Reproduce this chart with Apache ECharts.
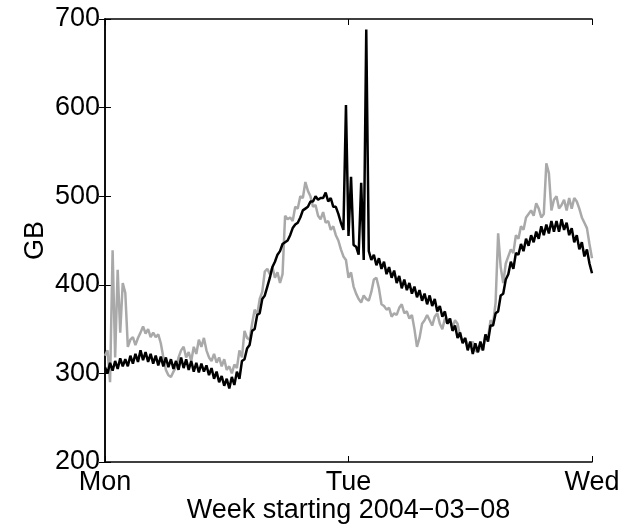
<!DOCTYPE html>
<html>
<head>
<meta charset="utf-8">
<script src="https://cdn.jsdelivr.net/npm/echarts@6/dist/echarts.min.js"></script>
<style>
  html, body { margin: 0; padding: 0; background: #fff; }
  #chart { width: 636px; height: 527px; }
</style>
</head>
<body>
<div id="chart"></div>
<script>
/* x ticks: hours since Monday 00:00 and their labels */
const tickHours = [0, 24, 48]
const tickLabels = ['Mon', 'Tue', 'Wed']

/* sample spacing of both series, in hours (0 .. 48) */
const stepHours = 0.25

/* grey series, one value every 15 minutes (GB) */
const greyValues = [
  320, 326, 290, 439, 318, 417, 346, 402,
  391, 330, 338, 341, 332, 340, 346, 353,
  345, 350, 341, 346, 341, 344, 334, 318,
  304, 298, 296, 302, 307, 318, 326, 330,
  318, 324, 314, 330, 322, 338, 330, 340,
  326, 318, 314, 322, 312, 318, 308, 316,
  304, 308, 300, 310, 306, 326, 318, 348,
  340, 338, 356, 372, 366, 384, 392, 415,
  418, 412, 420, 408, 414, 402, 412, 478,
  474, 476, 472, 488, 486, 500, 498, 516,
  506, 500, 488, 490, 478, 474, 482, 470,
  472, 462, 466, 456, 450, 440, 432, 428,
  408, 414, 398, 390, 384, 380, 388, 384,
  382, 392, 406, 408, 396, 378, 376, 372,
  374, 364, 368, 366, 374, 378, 368, 370,
  362, 366, 350, 330, 340, 356, 360, 366,
  360, 354, 364, 368, 356, 350, 362, 356,
  362, 352, 360, 356, 342, 336, 340, 332,
  330, 336, 326, 324, 330, 326, 344, 340,
  360, 356, 380, 458, 420, 402, 424, 432,
  440, 436, 456, 452, 466, 462, 476, 480,
  484, 478, 492, 486, 476, 480, 537, 526,
  484, 496, 500, 486, 490, 496, 484, 498,
  486, 498, 494, 486, 476, 470, 464, 446,
  430
]

/* black series, one value every 15 minutes (GB), spikes included */
const blackValues = [
  307, 300, 312, 303, 314, 305, 317, 308,
  316, 308, 320, 311, 322, 313, 326, 315,
  324, 313, 322, 311, 320, 309, 319, 308,
  318, 307, 316, 305, 314, 304, 318, 306,
  316, 304, 314, 302, 312, 301, 311, 302,
  309, 298, 306, 294, 302, 290, 297, 286,
  294, 283, 296, 287, 302, 294, 314, 316,
  328, 332, 348, 350, 366, 368, 384, 388,
  398, 408, 420, 426, 434, 438, 446, 448,
  450, 456, 464, 468, 470, 476, 484, 486,
  488, 494, 494, 500, 496, 498, 498, 504,
  494, 498, 488, 488, 480, 470, 462, 603,
  455, 522, 445, 443, 434, 515, 428, 688,
  438, 428, 434, 422, 430, 418, 426, 412,
  420, 408, 416, 402, 410, 396, 406, 394,
  402, 390, 398, 386, 394, 382, 390, 378,
  388, 376, 384, 370, 376, 364, 370, 356,
  362, 348, 354, 340, 346, 334, 340, 326,
  336, 322, 334, 324, 336, 326, 344, 336,
  354, 354, 368, 370, 388, 390, 406, 412,
  426, 418, 436, 434, 446, 438, 452, 444,
  456, 448, 460, 452, 466, 456, 468, 458,
  472, 460, 472, 460, 474, 462, 470, 456,
  464, 448, 456, 440, 448, 432, 440, 424,
  413
]

const axisName = 'Week starting 2004\u221203\u221208'
const yName = 'GB'

/* pair each value with its time */
function toPairs(values) {
  return values.map((v, i) => [i * stepHours, v])
}

const labelFont = {
  fontFamily: 'Liberation Sans, Arial, sans-serif',
  fontSize: 27,
  color: '#000'
}

const frameLine = { show: true, lineStyle: { color: '#000', width: 1.5 } }
const innerTick = { show: true, inside: true, length: 6, lineStyle: { color: '#000', width: 1 } }

const chart = echarts.init(document.getElementById('chart'), null, { renderer: 'canvas' })

chart.setOption({
  animation: false,
  backgroundColor: '#fff',
  /* plot area, fixed: no automatic shrinking for labels */
  grid: { left: 105, top: 19, right: 44, bottom: 65, containLabel: false, outerBoundsMode: 'none' },
  xAxis: [
    {
      type: 'value',
      position: 'bottom',
      min: 0,
      max: 48,
      interval: 24,
      name: axisName,
      nameLocation: 'middle',
      nameGap: 35,
      nameMoveOverlap: false,
      nameTextStyle: labelFont,
      axisLine: frameLine,
      axisTick: innerTick,
      splitLine: { show: false },
      axisLabel: Object.assign({
        margin: 7,
        showMinLabel: true,
        showMaxLabel: true,
        formatter: (v) => tickLabels[tickHours.indexOf(v)] || ''
      }, labelFont)
    },
    {
      type: 'value',
      position: 'top',
      min: 0,
      max: 48,
      interval: 24,
      axisLine: frameLine,
      axisTick: innerTick,
      splitLine: { show: false },
      axisLabel: { show: false }
    }
  ],
  yAxis: [
    {
      type: 'value',
      position: 'left',
      min: 200,
      max: 700,
      interval: 100,
      name: yName,
      nameLocation: 'middle',
      nameGap: 56,
      nameMoveOverlap: false,
      nameRotate: 90,
      nameTextStyle: labelFont,
      axisLine: frameLine,
      axisTick: innerTick,
      splitLine: { show: false },
      axisLabel: Object.assign({ margin: 5 }, labelFont)
    },
    {
      type: 'value',
      position: 'right',
      min: 200,
      max: 700,
      interval: 100,
      axisLine: frameLine,
      axisTick: innerTick,
      splitLine: { show: false },
      axisLabel: { show: false }
    }
  ],
  series: [
    {
      name: 'grey',
      type: 'line',
      data: toPairs(greyValues),
      showSymbol: false,
      lineStyle: { color: '#a9a9a9', width: 2.5 },
      z: 2
    },
    {
      name: 'black',
      type: 'line',
      data: toPairs(blackValues),
      showSymbol: false,
      lineStyle: { color: '#000', width: 2.5 },
      z: 3
    }
  ]
})
</script>
</body>
</html>
